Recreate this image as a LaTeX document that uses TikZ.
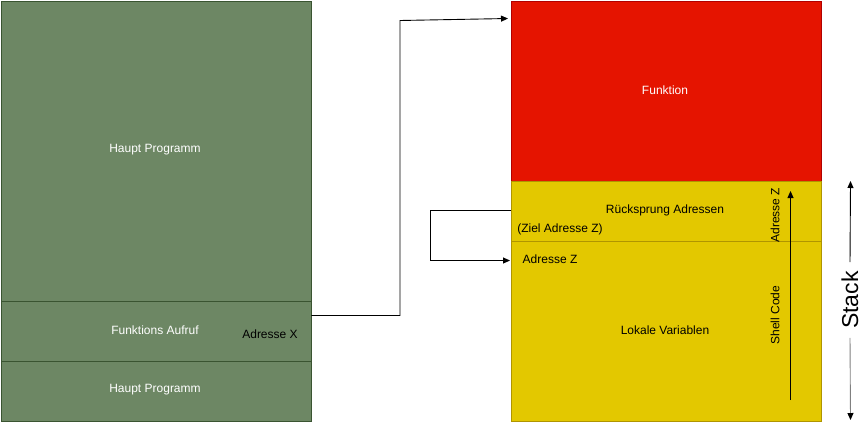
\documentclass[tikz,border=0pt]{standalone}
\usepackage{fontspec}
\setmainfont{Liberation Sans}
\usetikzlibrary{arrows.meta}
\definecolor{gfill}{HTML}{6D8764}
\definecolor{gdraw}{HTML}{3A5431}
\definecolor{rfill}{HTML}{E51400}
\definecolor{rdraw}{HTML}{B20000}
\definecolor{yfill}{HTML}{E3C800}
\definecolor{ydraw}{HTML}{B09500}
\begin{document}
\begin{tikzpicture}[x=1pt,y=-1pt,
  txt/.style={font=\fontsize{12}{14}\selectfont,inner sep=0pt},
  wtxt/.style={txt,text=white},
  greenbox/.style={draw=gdraw,fill=gfill,line width=0.8pt},
  redbox/.style={draw=rdraw,fill=rfill,line width=0.8pt},
  yellowbox/.style={draw=ydraw,fill=yfill,line width=0.8pt},
  conn/.style={draw=black,line width=0.9pt,-{Triangle[length=7pt,width=6pt]}},
  plain/.style={draw=black,line width=0.9pt}]
\useasboundingbox (0,0) rectangle (866,429);
% left column
\node[greenbox,minimum width=310pt,minimum height=300pt,anchor=north west,inner sep=0pt] (hp1) at (0.5,0.5) {};
\node[greenbox,minimum width=310pt,minimum height=60pt,anchor=north west,inner sep=0pt] (fa) at (0.5,300.5) {};
\node[greenbox,minimum width=310pt,minimum height=60pt,anchor=north west,inner sep=0pt] (hp2) at (0.5,360.5) {};
\node[wtxt] (thp1) at (155,150) {Haupt Programm};
\node[wtxt] (tfa) at (155,330) {Funktions Aufruf};
\node[txt] (tax) at (270,334) {Adresse X};
\node[wtxt] (thp2) at (155,390) {Haupt Programm};
% right column
\node[redbox,minimum width=310pt,minimum height=180pt,anchor=north west,inner sep=0pt] (fk) at (510.5,0.5) {};
\node[yellowbox,minimum width=310pt,minimum height=60pt,anchor=north west,inner sep=0pt] (ra) at (510.5,180.5) {};
\node[yellowbox,minimum width=310pt,minimum height=180pt,anchor=north west,inner sep=0pt] (lv) at (510.5,240.5) {};
\node[wtxt] (tfk) at (665,90) {Funktion};
\node[txt] (tra) at (665,210) {Rücksprung Adressen};
\node[txt] (tza) at (560,229) {(Ziel Adresse Z)};
\node[txt] (taz) at (550,259) {Adresse Z};
\node[txt] (tlv) at (665,330) {Lokale Variablen};
\node[txt,rotate=90] (taz2) at (775,215) {Adresse Z};
\node[txt,rotate=90] (tsc) at (775,315) {Shell Code};
% connectors
\coordinate (c1a) at (400,315.5);
\coordinate (c1b) at (400,20.5);
\coordinate (c1e) at (508,18.5);
\draw[conn] (fa.east |- c1a) -- (c1a) -- (c1b) -- (c1e);
\coordinate (c2s) at (510.5,210.5);
\coordinate (c2a) at (430.5,210.5);
\coordinate (c2b) at (430.5,260.5);
\coordinate (c2e) at (510,260.5);
\draw[conn] (c2s) -- (c2a) -- (c2b) -- (c2e);
\coordinate (v1) at (790.5,400);
\coordinate (v2) at (790.5,191);
\draw[conn] (v1) -- (v2);
% stack
\node[font=\fontsize{23}{27}\selectfont,rotate=90,inner sep=0pt] (stk) at (850,300) {Stack};
\coordinate (st) at (850.5,181);
\coordinate (sb) at (850.5,420);
\draw[conn] (stk.east) ++(0,9pt) -- (st);
\draw[line width=0.9pt,draw=gray,-{Triangle[length=7pt,width=6pt,color=black]}] (stk.west) ++(0,-9pt) -- (sb);
\end{tikzpicture}
\end{document}
